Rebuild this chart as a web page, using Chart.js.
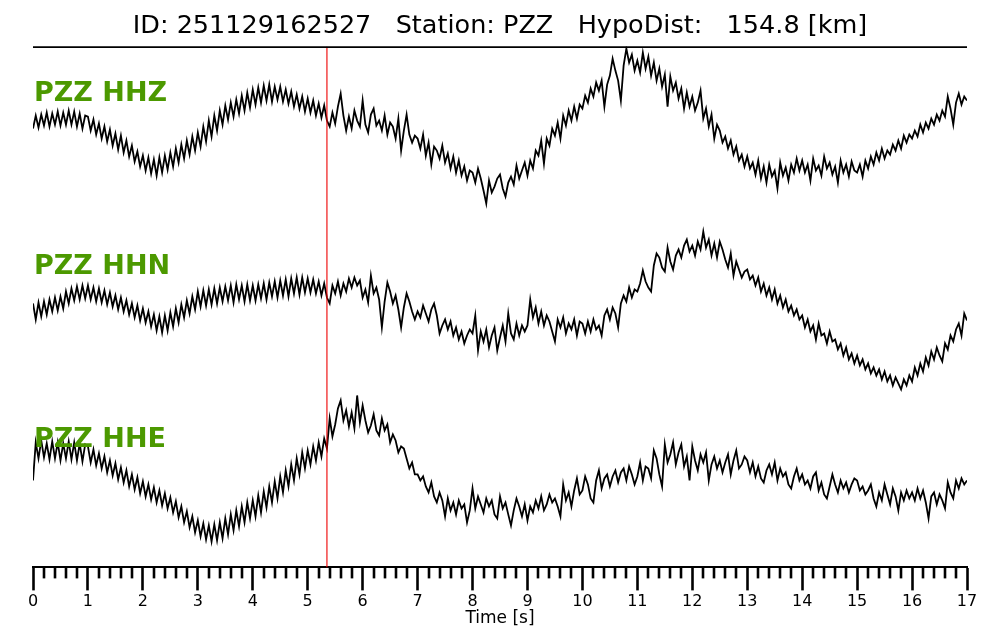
<!DOCTYPE html>
<html><head><meta charset="utf-8">
<script src="https://cdn.jsdelivr.net/npm/chart.js@4.4.1/dist/chart.umd.min.js"></script>
<style>html,body{margin:0;padding:0;background:#fff;}canvas{display:block;}</style>
</head><body>
<canvas id="c" width="1000" height="640"></canvas>
<script>
const titleText = 'ID: 251129162527   Station: PZZ   HypoDist:   154.8 [km]';
const axisTitle = 'Time [s]';
const channelLabels = ['PZZ HHZ', 'PZZ HHN', 'PZZ HHE'];
const sampleInterval = 0.05;
const timeRange = [0, 17];
const pickTime = 5.35;
const traceOffsets = [447, 262, 97];

const hhz = [
-8, 5, -7, 6, -5, 8, -6, 7, -4, 9, -5, 8, -4, 10, -4, 9, -6, 7, -8, 5,
4, -10, 1, -14, -3, -18, -6, -21, -9, -25, -13, -29, -15, -32, -20, -36, -25, -41, -31, -46,
-35, -50, -37, -53, -39, -55, -37, -52, -35, -49, -32, -46, -28, -42, -24, -38, -20, -34, -16, -30,
-12, -26, -6, -21, 0, -16, 5, -10, 10, -4, 15, 1, 18, 4, 21, 7, 25, 10, 28, 13,
31, 16, 33, 18, 35, 20, 36, 19, 34, 21, 34, 19, 31, 17, 29, 14, 26, 12, 24, 9,
22, 8, 20, 5, 17, 3, 15, 0, -6, 8, -3, 14, 27, 5, -10, 4, -8, 10, 0, -6,
20, -4, -12, 6, 12, -5, 0, -10, 5, -14, -2, -6, -18, 2, -30, -10, 6, -14, -22, -15,
-18, -28, -14, -35, -22, -44, -26, -30, -38, -25, -42, -33, -48, -36, -52, -40, -55, -46, -60, -50,
-52, -62, -48, -58, -70, -83, -60, -72, -66, -58, -54, -68, -76, -62, -56, -64, -45, -58, -50, -42,
-55, -40, -48, -30, -35, -20, -43, -18, -25, -8, -15, -2, -18, 5, -5, 10, 0, 14, 2, 16,
12, 25, 18, 32, 24, 38, 30, 40, 14, 36, 45, 62, 50, 40, 20, 55, 72, 58, 66, 50,
60, 48, 68, 52, 64, 45, 58, 40, 52, 34, 46, 14, 44, 30, 38, 22, 32, 12, 28, 14,
24, 10, 18, 30, 2, 12, -6, 6, -18, -4, -10, -22, -16, -28, -20, -34, -26, -40, -34, -46,
-36, -48, -42, -54, -40, -58, -46, -62, -44, -56, -50, -68, -42, -55, -47, -60, -44, -52, -38, -50,
-40, -52, -44, -60, -38, -50, -45, -55, -36, -48, -42, -54, -46, -62, -40, -52, -44, -56, -41, -50,
-52, -44, -56, -40, -48, -36, -44, -32, -40, -28, -38, -30, -34, -24, -30, -20, -28, -15, -22, -14,
-18, -10, -16, -4, -12, -2, -8, 2, -4, 6, 0, 10, 4, 24, 12, -4, 18, 27, 16, 24,
20
];

const hhn = [
2, -14, 3, -11, 4, -9, 6, -6, 8, -5, 9, -3, 14, 2, 17, 5, 19, 6, 20, 7,
20, 6, 18, 4, 17, 3, 15, 1, 13, -1, 10, -4, 8, -6, 5, -9, 2, -12, 0, -15,
-3, -17, -6, -21, -9, -25, -11, -27, -10, -25, -7, -21, -3, -17, 1, -12, 5, -8, 9, -4,
14, -1, 15, 0, 16, 1, 17, 2, 18, 4, 19, 5, 20, 3, 21, 6, 20, 4, 21, 5,
20, 5, 21, 7, 22, 6, 23, 9, 24, 8, 25, 10, 26, 9, 27, 12, 28, 11, 28, 13,
27, 13, 26, 12, 24, 10, 22, 8, 2, 20, 12, 24, 10, 22, 14, 27, 18, 28, 20, 25,
8, 16, 3, 30, 12, 18, 6, -22, 4, 23, 14, 2, 10, -4, -22, -2, 12, 4, -6, -14,
-6, -12, 0, -8, -16, -4, 2, -10, -28, -20, -14, -24, -16, -30, -22, -34, -26, -38, -30, -24,
-28, -10, -45, -26, -36, -24, -42, -30, -22, -45, -32, -20, -36, -8, -28, -34, -18, -30, -20, -26,
-20, 6, -12, -2, -18, -6, -20, -10, -16, -26, -36, -14, -22, -12, -28, -18, -24, -14, -30, -16,
-18, -28, -16, -26, -14, -24, -20, -30, -10, -4, -14, -2, -8, -22, 2, 10, 4, 18, 8, 16,
14, 22, 35, 24, 18, 14, 40, 52, 48, 38, 34, 58, 44, 36, 50, 56, 48, 60, 66, 54,
60, 50, 64, 56, 74, 58, 66, 50, 62, 48, 64, 56, 46, 38, 52, 30, 44, 36, 28, 34,
36, 26, 30, 20, 28, 14, 22, 10, 18, 6, 16, 2, 10, -2, 6, -6, 0, -10, -4, -14,
-10, -22, -14, -26, -20, -34, -18, -30, -28, -38, -26, -36, -34, -44, -38, -50, -42, -54, -48, -58,
-50, -60, -54, -64, -58, -68, -62, -70, -64, -74, -66, -76, -70, -80, -72, -78, -84, -74, -80, -70,
-76, -62, -70, -58, -66, -52, -60, -46, -54, -42, -50, -56, -38, -44, -30, -36, -24, -18, -30, -8,
-15
];

const hhe = [
-10, 28, 12, 30, 13, 27, 11, 29, 12, 28, 10, 27, 12, 29, 11, 28, 10, 27, 9, 26,
24, 8, 21, 5, 17, 2, 14, -2, 10, -5, 7, -9, 3, -12, 0, -16, -4, -19, -7, -23,
-11, -26, -14, -29, -17, -32, -20, -35, -23, -38, -27, -42, -31, -47, -36, -52, -41, -57, -46, -62,
-50, -66, -53, -69, -55, -71, -54, -70, -52, -68, -48, -64, -44, -60, -40, -56, -36, -52, -32, -48,
-30, -46, -25, -42, -21, -37, -16, -32, -11, -28, -6, -22, 0, -16, 6, -10, 12, -4, 18, 2,
20, 6, 24, 10, 28, 14, 32, 22, 52, 34, 46, 62, 70, 50, 60, 44, 58, 42, 75, 48,
65, 50, 38, 45, 56, 40, 35, 52, 40, 46, 28, 36, 30, 18, 24, 22, 12, 2, 8, -4,
-4, -10, -6, -16, -22, -12, -26, -32, -22, -30, -46, -28, -40, -32, -44, -30, -38, -34, -52, -40,
-18, -38, -26, -34, -42, -28, -36, -30, -44, -48, -26, -38, -32, -44, -55, -40, -28, -36, -46, -34,
-50, -36, -42, -30, -38, -26, -40, -34, -24, -32, -28, -36, -46, -14, -30, -22, -36, -20, -8, -24,
-20, -6, -14, -28, -32, -10, 0, -18, -8, -4, -16, -6, 0, -12, -2, 2, -10, 4, -4, -14,
-6, 8, -10, 4, 2, -8, 20, 12, -4, -16, 26, 8, 16, 28, 6, 18, 26, 4, 14, -10,
24, 10, 0, 16, 8, 18, -10, 6, 14, 2, 10, -2, 8, 16, -4, 10, 20, 2, 6, 14,
10, -2, 8, -6, 4, -8, -12, 0, 6, -4, 8, -10, 2, -6, -2, -14, -18, -6, 2, -10,
-4, -14, -10, -18, -6, -2, -20, -12, -24, -28, -16, -4, -14, -22, -10, -18, -12, -22, -14, -8,
-10, -20, -16, -24, -20, -14, -28, -36, -22, -30, -14, -24, -34, -18, -26, -40, -22, -30, -20, -28,
-22, -30, -18, -28, -20, -32, -48, -26, -22, -34, -24, -30, -38, -12, -22, -28, -10, -18, -8, -14,
-10
];

const traces = [hhz, hhn, hhe];
const times = hhz.map((_, i) => +(i * sampleInterval).toFixed(2));
const yRange = [0, 521];

const labelLift = [20, 32, 23];
const decor = {
  id: 'decor',
  afterDatasetsDraw(chart) {
    const {ctx, chartArea: a, scales: {y}} = chart;
    ctx.save();
    ctx.strokeStyle = '#000';
    ctx.lineWidth = 1.6;
    ctx.beginPath();
    ctx.moveTo(a.left, a.top + 0.5);
    ctx.lineTo(a.right, a.top + 0.5);
    ctx.stroke();
    ctx.fillStyle = '#4c9900';
    ctx.font = 'bold 27px "DejaVu Sans"';
    ctx.textBaseline = 'alphabetic';
    ctx.textAlign = 'left';
    channelLabels.forEach((lab, i) => {
      ctx.fillText(lab, a.left + 1, y.getPixelForValue(traceOffsets[i] + labelLift[i]));
    });
    ctx.restore();
  },
  afterDraw(chart) {
    const {ctx, chartArea: a, scales: {x}} = chart;
    ctx.save();
    ctx.strokeStyle = '#000';
    ctx.lineWidth = 2.6;
    for (let k = timeRange[0] * 5; k <= timeRange[1] * 5; k++) {
      if (k % 5 === 0) continue;
      const px = Math.round(x.getPixelForValue(k / 5));
      ctx.beginPath();
      ctx.moveTo(px, a.bottom);
      ctx.lineTo(px, a.bottom + 11);
      ctx.stroke();
    }
    ctx.restore();
  }
};

const datasets = [{
  data: [{x: pickTime, y: yRange[0]}, {x: pickTime, y: yRange[1]}],
  borderColor: '#ee0000', borderWidth: 1.1, pointRadius: 0, fill: false
}];
traces.forEach((vals, i) => {
  datasets.push({
    data: vals.map((v, j) => ({x: times[j], y: traceOffsets[i] + v})),
    borderColor: '#000', borderWidth: 1.8, pointRadius: 0, fill: false, tension: 0
  });
});

new Chart(document.getElementById('c'), {
  type: 'line',
  data: {datasets},
  plugins: [decor],
  options: {
    responsive: false,
    animation: false,
    devicePixelRatio: 1,
    layout: {padding: {left: 33, right: 33, top: 0, bottom: 7}},
    plugins: {
      legend: {display: false},
      tooltip: {enabled: false},
      title: {
        display: true, text: titleText, color: '#000',
        font: {family: 'DejaVu Sans', size: 25.5, weight: 'normal'},
        padding: {top: 11, bottom: 5}
      }
    },
    scales: {
      x: {
        type: 'linear', min: timeRange[0], max: timeRange[1],
        ticks: {stepSize: 1, autoSkip: false, maxRotation: 0, color: '#000', padding: 2,
                font: {family: 'DejaVu Sans', size: 16}},
        grid: {drawOnChartArea: false, tickLength: 23, tickWidth: 2.6, tickColor: '#000'},
        border: {display: true, color: '#000', width: 2},
        title: {display: true, text: axisTitle, color: '#000', padding: {top: -5, bottom: 4},
                font: {family: 'DejaVu Sans', size: 17}}
      },
      y: {display: false, min: yRange[0], max: yRange[1]}
    }
  }
});
</script>
</body></html>
